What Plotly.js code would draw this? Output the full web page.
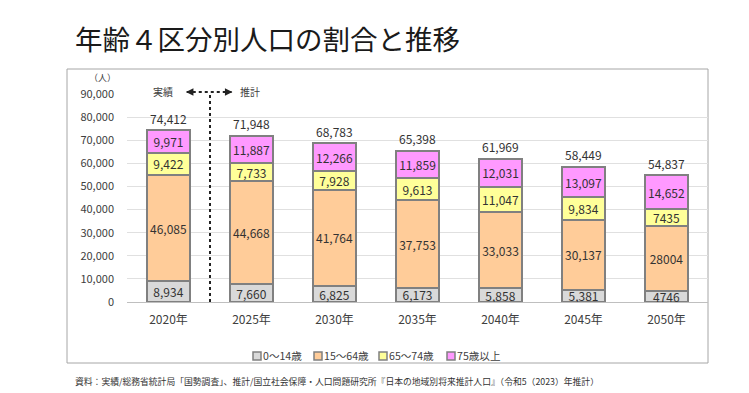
<!DOCTYPE html>
<html>
<head>
<meta charset="utf-8">
<script src="https://cdn.plot.ly/plotly-3.0.1.min.js"></script>
<style>body{margin:0;background:#fff;}#chart{width:749px;height:393px;}</style>
</head>
<body>
<div id="chart"></div>
<script>
var years = ["2020年","2025年","2030年","2035年","2040年","2045年","2050年"];
var age0_14 = [8934, 7660, 6825, 6173, 5858, 5381, 4746];
var age15_64 = [46085, 44668, 41764, 37753, 33033, 30137, 28004];
var age65_74 = [9422, 7733, 7928, 9613, 11047, 9834, 7435];
var age75up = [9971, 11887, 12266, 11859, 12031, 13097, 14652];
var totals = [74412, 71948, 68783, 65398, 61969, 58449, 54837];
var lbl0_14 = ["8,934","7,660","6,825","6,173","5,858","5,381","4746"];
var lbl15_64 = ["46,085","44,668","41,764","37,753","33,033","30,137","28004"];
var lbl65_74 = ["9,422","7,733","7,928","9,613","11,047","9,834","7435"];
var lbl75up = ["9,971","11,887","12,266","11,859","12,031","13,097","14,652"];
var totalLabels = ["74,412","71,948","68,783","65,398","61,969","58,449","54,837"];
var seriesNames = ["0〜14歳","15〜64歳","65〜74歳","75歳以上"];
var yTickVals = [0,10000,20000,30000,40000,50000,60000,70000,80000,90000];
var yTickText = ["0","10,000","20,000","30,000","40,000","50,000","60,000","70,000","80,000","90,000"];

var FONT = "'Noto Sans CJK JP', 'Noto Sans', sans-serif";
var colors = ["#d9d9d9","#ffcc99","#ffff99","#ff99ff"];
var vals = [age0_14, age15_64, age65_74, age75up];
var lbls = [lbl0_14, lbl15_64, lbl65_74, lbl75up];

// plot area geometry (pixels) used to place decorations in paper coords
var PL = 127, PW = 581, PB = 302, PH = 208;
function px(x){ return (x - PL) / PW; }
function py(y){ return (PB - y) / PH; }

var data = vals.map(function(v,i){
  return {
    type:'bar', x:years, y:v, name:seriesNames[i], text:lbls[i],
    textposition:'inside', insidetextanchor:'middle', constraintext:'none', textangle:0,
    textfont:{size:12, color:'#333333', family:FONT},
    marker:{color:colors[i], line:{color:'#808080', width:2}},
    hoverinfo:'y', showlegend:false
  };
});

var totalAnns = years.map(function(yr,i){
  return {xref:'x', yref:'y', x:yr, y:totals[i], text:totalLabels[i], showarrow:false,
    yanchor:'middle', yshift:12, font:{size:12, color:'#333333', family:FONT}};
});

// custom legend (compact swatch + label, as in the original)
var legSwatchX = [253, 314, 379, 447];
var legendShapes = seriesNames.map(function(n,i){
  return {type:'rect', xref:'paper', yref:'paper', x0:px(legSwatchX[i]), x1:px(legSwatchX[i]+8),
    y0:py(360), y1:py(352), fillcolor:colors[i], line:{color:'#808080', width:1.5}};
});
var legendAnns = seriesNames.map(function(n,i){
  return {xref:'paper', yref:'paper', x:px(legSwatchX[i]+8), y:py(355.5), text:n, showarrow:false,
    xanchor:'left', yanchor:'middle', font:{size:10.6, color:'#404040', family:FONT}};
});

var layout = {
  width:749, height:393,
  margin:{l:PL, r:41, t:94, b:91},
  paper_bgcolor:'#ffffff', plot_bgcolor:'#ffffff',
  font:{family:FONT, color:'#404040'},
  barmode:'stack', bargap:0.48, showlegend:false,
  title:{text:'年齢４区分別人口の割合と推移', font:{size:27.5, color:'#1a1a1a', family:FONT},
    xref:'container', yref:'container', x:75/749, xanchor:'left', y:1-40/393, yanchor:'middle'},
  xaxis:{type:'category', showline:true, linecolor:'#bfbfbf', linewidth:1, showgrid:false,
    tickfont:{size:12, color:'#404040'}, ticks:'', ticklabelstandoff:7, fixedrange:true},
  yaxis:{range:[0,90000], tickvals:yTickVals, ticktext:yTickText, showgrid:true, gridcolor:'#e0e0e0',
    zeroline:false, showline:false, ticks:'', tickfont:{size:11, color:'#404040'}, ticklabelstandoff:12, fixedrange:true},
  shapes:[
    {type:'rect', xref:'paper', yref:'paper', x0:px(67), x1:1, y0:py(363), y1:py(69),
      line:{color:'#a6a6a6', width:1}, fillcolor:'rgba(0,0,0,0)', layer:'below'},
    {type:'line', xref:'x', yref:'paper', x0:0.5, x1:0.5, y0:0, y1:py(92),
      line:{color:'#222222', width:2, dash:'dot'}},
    {type:'line', xref:'x', yref:'paper', x0:0.22, x1:0.76, y0:py(92), y1:py(92),
      line:{color:'#222222', width:2, dash:'dot'}}
  ].concat(legendShapes),
  annotations:[
    {xref:'paper', yref:'paper', x:px(102), y:py(77), text:'（人）', showarrow:false,
      font:{size:9, color:'#404040'}, xanchor:'center', yanchor:'middle'},
    {xref:'x', yref:'paper', x:-0.066, y:py(91), text:'実績', showarrow:false,
      font:{size:10, color:'#404040'}, xanchor:'center', yanchor:'middle'},
    {xref:'x', yref:'paper', x:0.98, y:py(91), text:'推計', showarrow:false,
      font:{size:10, color:'#404040'}, xanchor:'center', yanchor:'middle'},
    {xref:'x', yref:'paper', x:0.21, y:py(92), text:'', showarrow:true, ax:6, ay:0,
      arrowhead:2, arrowsize:1, arrowwidth:1.5, arrowcolor:'#222222'},
    {xref:'x', yref:'paper', x:0.77, y:py(92), text:'', showarrow:true, ax:-6, ay:0,
      arrowhead:2, arrowsize:1, arrowwidth:1.5, arrowcolor:'#222222'},
    {xref:'paper', yref:'paper', x:px(73), y:py(381), xanchor:'left', yanchor:'middle', showarrow:false,
      text:'資料：実績/総務省統計局「国勢調査」、推計/国立社会保障・人口問題研究所『日本の地域別将来推計人口』（令和5（2023）年推計）',
      font:{size:8.8, color:'#333333'}}
  ].concat(totalAnns, legendAnns)
};
Plotly.newPlot('chart', data, layout, {displayModeBar:false, staticPlot:true});
</script>
</body>
</html>
